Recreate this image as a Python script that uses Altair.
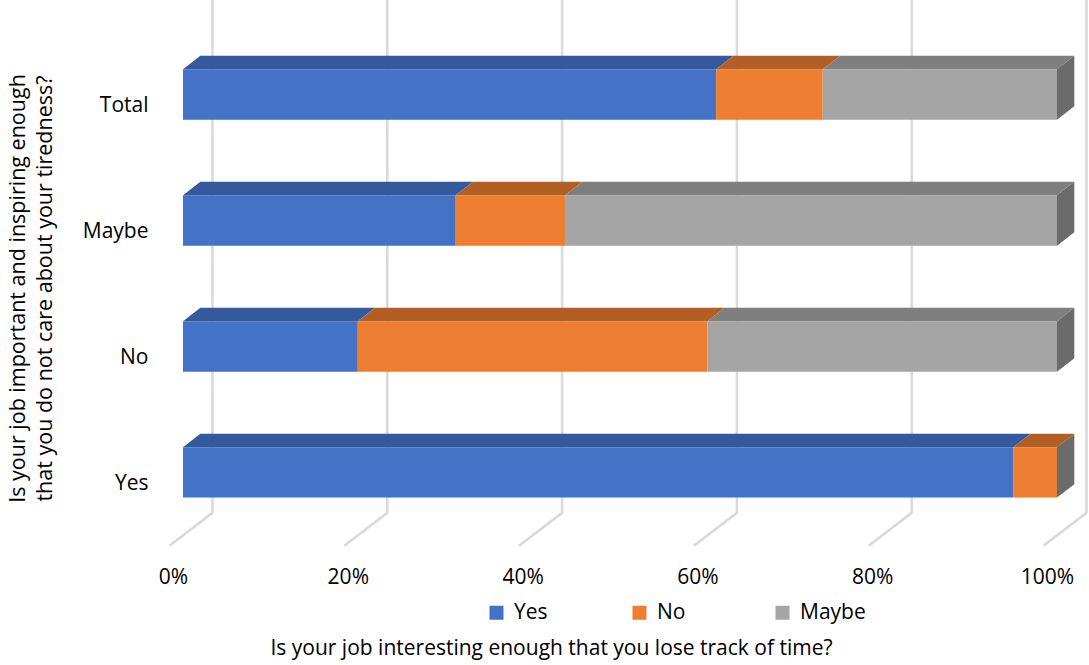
import altair as alt
import pandas as pd

# ---- data ----
categories = ["Yes", "No", "Maybe", "Total"]          # rows, bottom to top
series = ["Yes", "No", "Maybe"]
yes_pct = [95.0, 20.0, 31.2, 61.0]
no_pct = [5.0, 40.0, 12.5, 12.2]
maybe_pct = [0.0, 40.0, 56.3, 26.8]
tick_values = [0, 20, 40, 60, 80, 100]

x_title = "Is your job interesting enough that you lose track of time?"
y_title = ["Is your job important and inspiring enough",
           "that you do not care about your tiredness?"]

# ---- styles ----
front_colors = ["#4472C4", "#ED7D31", "#A5A5A5"]
top_colors = ["#345A9D", "#B35E22", "#7F7F7F"]
side_color = "#6B6B6B"
grid_color = "#D9D9D9"
FONT = "Open Sans"

# ---- 3D geometry (data units) ----
BH = 0.2          # half bar thickness (row units)
DX = 1.98         # depth offset, percent units
DY = 0.107        # depth offset, row units
WALL_DX = 3.375   # back wall offset
FLOOR_BACK = -0.321
FLOOR_FRONT = -0.583
FLOOR_FRONT_DX = -1.545
Y_MIN, Y_MAX = -0.6, 3.75

values = {"Yes": yes_pct, "No": no_pct, "Maybe": maybe_pct}

front_rows, top_rows, side_rows = [], [], []
for i, cat in enumerate(categories):
    start = 0.0
    for s in series:
        v = values[s][i]
        end = start + v
        front_rows.append({"series": s, "x": start, "x2": end, "y": i - BH, "y2": i + BH})
        if v > 0:
            key = f"{cat}-{s}"
            top_rows.append({"key": key, "series": s, "y": i + BH, "x": start, "x2": end})
            top_rows.append({"key": key, "series": s, "y": i + BH + DY, "x": start + DX, "x2": end + DX})
        start = end
    side_rows.append({"row": cat, "x": start, "y": i - BH, "y2": i + BH})
    side_rows.append({"row": cat, "x": start + DX, "y": i - BH + DY, "y2": i + BH + DY})

grid_rows = []
for t in tick_values:
    grid_rows.append({"g": t, "o": 0, "x": t + FLOOR_FRONT_DX, "y": FLOOR_FRONT})
    grid_rows.append({"g": t, "o": 1, "x": t + WALL_DX, "y": FLOOR_BACK})
    grid_rows.append({"g": t, "o": 2, "x": t + WALL_DX, "y": Y_MAX})

front_df = pd.DataFrame(front_rows)
top_df = pd.DataFrame(top_rows)
side_df = pd.DataFrame(side_rows)
grid_df = pd.DataFrame(grid_rows)

xscale = alt.Scale(domain=[0, 100], nice=False, zero=False)
yscale = alt.Scale(domain=[Y_MIN, Y_MAX], nice=False, zero=False)

label_expr_y = "[" + ",".join(f"'{c}'" for c in categories) + "][datum.value]"

xaxis = alt.Axis(values=tick_values, labelExpr="datum.value + '%'", grid=False, domain=False,
                 ticks=False, tickSize=0, labelOffset=-10, labelPadding=18, labelFontSize=21,
                 labelFlush=False, labelOverlap=False,
                 labelColor="#000000", labelFont=FONT,
                 title=x_title, titleX=368, titleY=100, titleBaseline="middle",
                 titleFontSize=21, titleFontWeight="normal", titleColor="#000000", titleFont=FONT)
yaxis = alt.Axis(values=[0, 1, 2, 3], labelExpr=label_expr_y, grid=False, domain=False,
                 ticks=False, tickSize=0, labelOffset=11.5, labelPadding=35, labelFontSize=21,
                 labelFlush=False, labelOverlap=False,
                 labelColor="#000000", labelFont=FONT,
                 title=y_title, titleX=-165, titleY=288, titleBaseline="middle", titleAngle=270,
                 titleLineHeight=27, titleFontSize=21.5, titleFontWeight="normal",
                 titleColor="#000000", titleFont=FONT)

grid = alt.Chart(grid_df).mark_line(color=grid_color, strokeWidth=2.5).encode(
    x=alt.X("x:Q", scale=xscale, axis=xaxis),
    y=alt.Y("y:Q", scale=yscale, axis=yaxis),
    detail="g:N",
    order="o:Q",
)

top = alt.Chart(top_df).mark_area(orient="horizontal").encode(
    y=alt.Y("y:Q", scale=yscale, axis=yaxis),
    x=alt.X("x:Q", scale=xscale, axis=xaxis),
    x2="x2:Q",
    detail="key:N",
    color=alt.Color("series:N", scale=alt.Scale(domain=series, range=top_colors), legend=None),
)

side = alt.Chart(side_df).mark_area(orient="vertical", color=side_color).encode(
    x=alt.X("x:Q", scale=xscale, axis=xaxis),
    y=alt.Y("y:Q", scale=yscale, axis=yaxis),
    y2="y2:Q",
    detail="row:N",
)

front = alt.Chart(front_df).mark_rect().encode(
    x=alt.X("x:Q", scale=xscale, axis=xaxis),
    x2="x2:Q",
    y=alt.Y("y:Q", scale=yscale, axis=yaxis),
    y2="y2:Q",
    color=alt.Color("series:N", scale=alt.Scale(domain=series, range=front_colors),
                    legend=alt.Legend(title=None, orient="none", legendX=303, legendY=602,
                                      direction="horizontal", symbolType="square", symbolSize=196,
                                      symbolStrokeWidth=0, labelFontSize=21, labelOffset=7,
                                      labelFont=FONT, labelColor="#000000",
                                      columnPadding=49, gridAlign="all", padding=0)),
)

chart = alt.layer(grid, top, side, front).resolve_scale(color="independent").properties(
    width=874, height=548,
    autosize=alt.AutoSizeParams(type="none"),
    padding={"left": 183, "top": 0, "right": 32, "bottom": 117},
    background="white",
).configure(font=FONT).configure_view(strokeWidth=0, stroke=None)

chart.save("out.html", embed_options={"renderer": "svg", "actions": False})
